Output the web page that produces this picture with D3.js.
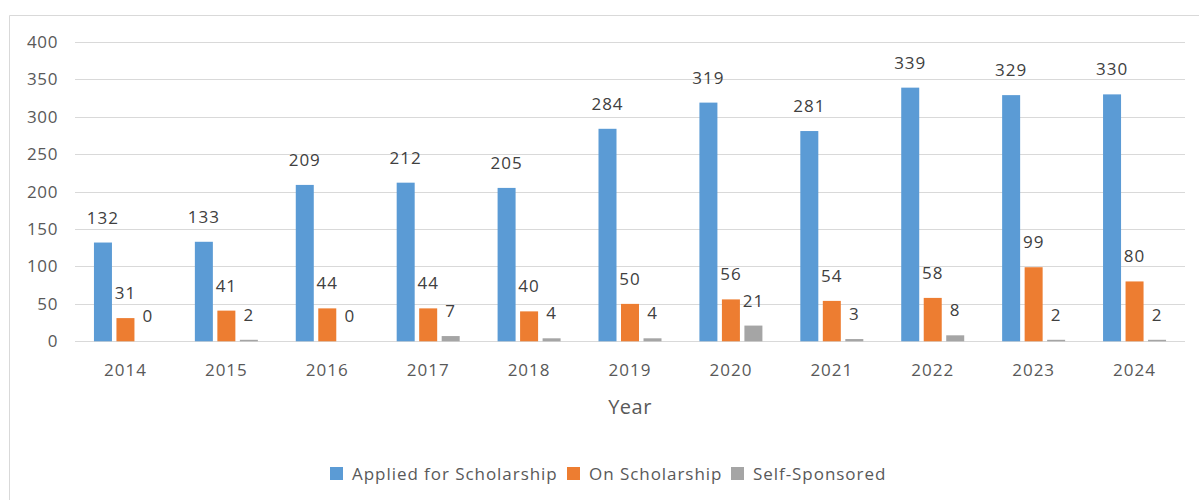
<!DOCTYPE html>
<html><head><meta charset="utf-8">
<script src="https://cdn.jsdelivr.net/npm/d3@7"></script>
<style>
html,body{margin:0;padding:0;background:#fff;}
svg{display:block;font-family:"Open Sans",sans-serif;}
</style></head>
<body>
<svg id="chart" width="1199" height="500"></svg>
<script>
const years = ["2014","2015","2016","2017","2018","2019","2020","2021","2022","2023","2024"];
const seriesNames = ["Applied for Scholarship","On Scholarship","Self-Sponsored"];
const applied = [132,133,209,212,205,284,319,281,339,329,330];
const onScholarship = [31,41,44,44,40,50,56,54,58,99,80];
const selfSponsored = [0,2,0,7,4,4,21,3,8,2,2];
const yTicks = [0,50,100,150,200,250,300,350,400];
const colors = ["#5b9bd5","#ed7d31","#a5a5a5"];
const seriesValues = [applied, onScholarship, selfSponsored];

const svg = d3.select("#chart");
// outer chart border
svg.append("path").attr("d","M9.5,500 L9.5,15.5 L1199,15.5").attr("fill","none").attr("stroke","#d9d9d9").attr("stroke-width",1);

const x = d3.scaleBand().domain(years).range([75,1185]).padding(0);
const x1 = d3.scaleBand().domain(seriesNames).range([-31.5,31.5]).paddingInner(0.2);
const y = d3.scaleLinear().domain([0,400]).range([341.3,42]);

// gridlines
svg.append("g").selectAll("line").data(yTicks).join("line")
  .attr("x1",75).attr("x2",1185)
  .attr("y1",d=>Math.round(y(d))+0.5).attr("y2",d=>Math.round(y(d))+0.5)
  .attr("stroke","#d9d9d9").attr("stroke-width",1);

// y axis labels
const yAxis = d3.axisLeft(y).tickValues(yTicks).tickSize(0).tickPadding(0);
const yg = svg.append("g").attr("transform","translate(58,0)").call(yAxis);
yg.select(".domain").remove();
yg.selectAll("text").attr("fill","#595959").style("font-size","17px").style("letter-spacing","0.6px").style("font-family","'Open Sans',sans-serif");

// x axis labels
const xAxis = d3.axisBottom(x).tickSize(0).tickPadding(0);
const xg = svg.append("g").attr("transform","translate(0,364)").call(xAxis);
xg.select(".domain").remove();
xg.selectAll("text").attr("fill","#595959").style("font-size","17px").style("letter-spacing","1px").style("font-family","'Open Sans',sans-serif");

// bars
const data = [];
years.forEach((yr,i)=>seriesNames.forEach((s,j)=>data.push({yr, s, j, v: seriesValues[j][i]})));
const g = svg.append("g");
g.selectAll("rect").data(data).join("rect")
  .attr("x",d=>x(d.yr)+x.bandwidth()/2+x1(d.s))
  .attr("width",x1.bandwidth())
  .attr("y",d=>y(d.v))
  .attr("height",d=>Math.max(0,y(0)-y(d.v)))
  .attr("fill",d=>colors[d.j]);
g.selectAll("text").data(data).join("text")
  .attr("x",d=>x(d.yr)+x.bandwidth()/2+x1(d.s)+x1.bandwidth()/2)
  .attr("y",d=>y(d.v)-19)
  .attr("text-anchor","middle")
  .attr("fill","#404040")
  .style("font-size","17px")
  .style("letter-spacing","1px")
  .text(d=>d.v);

// axis title
svg.append("text").attr("x",630).attr("y",414).attr("text-anchor","middle")
  .attr("fill","#595959").style("font-size","20px").style("letter-spacing","0.5px").text("Year");

// legend
const legendItems = [{n:seriesNames[0],x:330},{n:seriesNames[1],x:567},{n:seriesNames[2],x:731}];
const lg = svg.append("g");
legendItems.forEach((it,i)=>{
  lg.append("rect").attr("x",it.x).attr("y",467).attr("width",13).attr("height",13).attr("fill",colors[i]);
  lg.append("text").attr("x",it.x+22).attr("y",480).attr("fill","#595959").style("font-size","17px").style("letter-spacing","0.95px").text(it.n);
});
</script>
</body></html>
